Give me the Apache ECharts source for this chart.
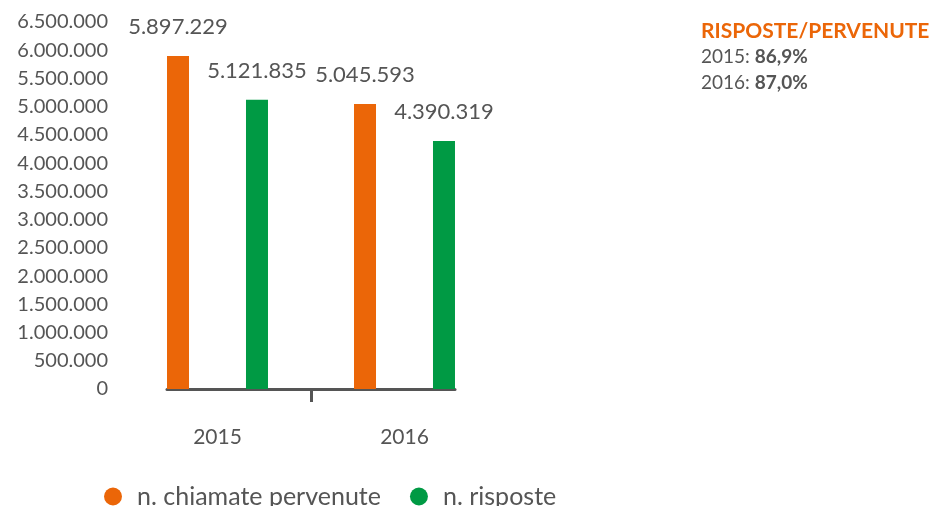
<!DOCTYPE html>
<html>
<head>
<meta charset="utf-8">
<script src="https://cdn.jsdelivr.net/npm/echarts@6/dist/echarts.min.js"></script>
<style>
  html, body { margin: 0; padding: 0; background: #fff; }
  #chart { width: 932px; height: 506px; }
</style>
</head>
<body>
<div id="chart"></div>
<script>
// Calls received and answered per year
const years = ['2015', '2016'];
const pervenute = [5897229, 5045593];
const risposte = [5121835, 4390319];
const seriesNames = ['n. chiamate pervenute', 'n. risposte'];
const yMax = 6500000;
const yStep = 500000;

const ORANGE = '#EB6608';
const GREEN = '#009A44';
const TEXT = '#555555';
const FONT = 'Lato, "Noto Sans", sans-serif';

// Italian thousands separator
function dots(v) {
  return String(v).replace(/\B(?=(\d{3})+(?!\d))/g, '.');
}
function pct(a, b) {
  return (a / b * 100).toFixed(1).replace('.', ',') + '%';
}

const ratioText = years.map((y, i) =>
  '{n|' + y + ': }{b|' + pct(risposte[i], pervenute[i]) + '}'
).join('\n');

const chart = echarts.init(document.getElementById('chart'));

const barLabel = {
  show: true,
  position: 'top',
  distance: 18,
  color: TEXT,
  fontFamily: FONT,
  fontSize: 22,
  formatter: p => dots(p.value)
};

chart.setOption({
  animation: false,
  textStyle: { fontFamily: FONT },
  title: {
    left: 701,
    top: 18,
    padding: 0,
    text: '{h|RISPOSTE/PERVENUTE}\n' + ratioText,
    textStyle: {
      fontWeight: 'normal',
      rich: {
        h: { color: ORANGE, fontWeight: 'bold', fontSize: 21, lineHeight: 26, fontFamily: FONT },
        n: { color: TEXT, fontWeight: 'normal', fontSize: 19, lineHeight: 26, fontFamily: FONT },
        b: { color: TEXT, fontWeight: 'bold', fontSize: 19, lineHeight: 26, fontFamily: FONT }
      }
    }
  },
  legend: {
    left: 99,
    top: 479,
    padding: 5,
    itemWidth: 18,
    itemHeight: 18,
    itemGap: 29,
    icon: 'circle',
    textStyle: { color: TEXT, fontSize: 25, fontFamily: FONT, padding: [0, 0, 0, 10] },
    data: seriesNames
  },
  grid: [
    { left: 124, right: 434, top: 22, bottom: 117 },
    { left: 167, right: 477, top: 22, bottom: 117 }
  ],
  xAxis: [
    {
      type: 'category',
      gridIndex: 0,
      data: years,
      axisLine: { show: false },
      axisTick: { show: false },
      axisLabel: { color: TEXT, fontSize: 21, margin: 38, fontFamily: FONT }
    },
    {
      // baseline with a single divider tick between the two years
      type: 'value',
      gridIndex: 1,
      min: 0,
      max: 2,
      interval: 1,
      splitLine: { show: false },
      axisLabel: { show: false },
      axisLine: { show: true, lineStyle: { color: '#555', width: 3 } },
      axisTick: { show: true, customValues: [1], length: 13, lineStyle: { color: '#555', width: 3 } }
    }
  ],
  yAxis: [
    {
      type: 'value',
      gridIndex: 0,
      min: 0,
      max: yMax,
      interval: yStep,
      axisLine: { show: false },
      axisTick: { show: false },
      splitLine: { show: false },
      axisLabel: { color: TEXT, fontSize: 20, margin: 16, fontFamily: FONT, formatter: v => dots(v) }
    },
    {
      type: 'value',
      gridIndex: 1,
      min: 0,
      max: 1,
      show: false
    }
  ],
  series: [
    {
      name: seriesNames[0],
      type: 'bar',
      xAxisIndex: 0,
      yAxisIndex: 0,
      data: pervenute,
      barWidth: 22,
      barGap: '259%',
      itemStyle: { color: ORANGE },
      label: barLabel
    },
    {
      name: seriesNames[1],
      type: 'bar',
      xAxisIndex: 0,
      yAxisIndex: 0,
      data: risposte,
      barWidth: 22,
      itemStyle: { color: GREEN },
      label: barLabel
    }
  ]
});
</script>
</body>
</html>
